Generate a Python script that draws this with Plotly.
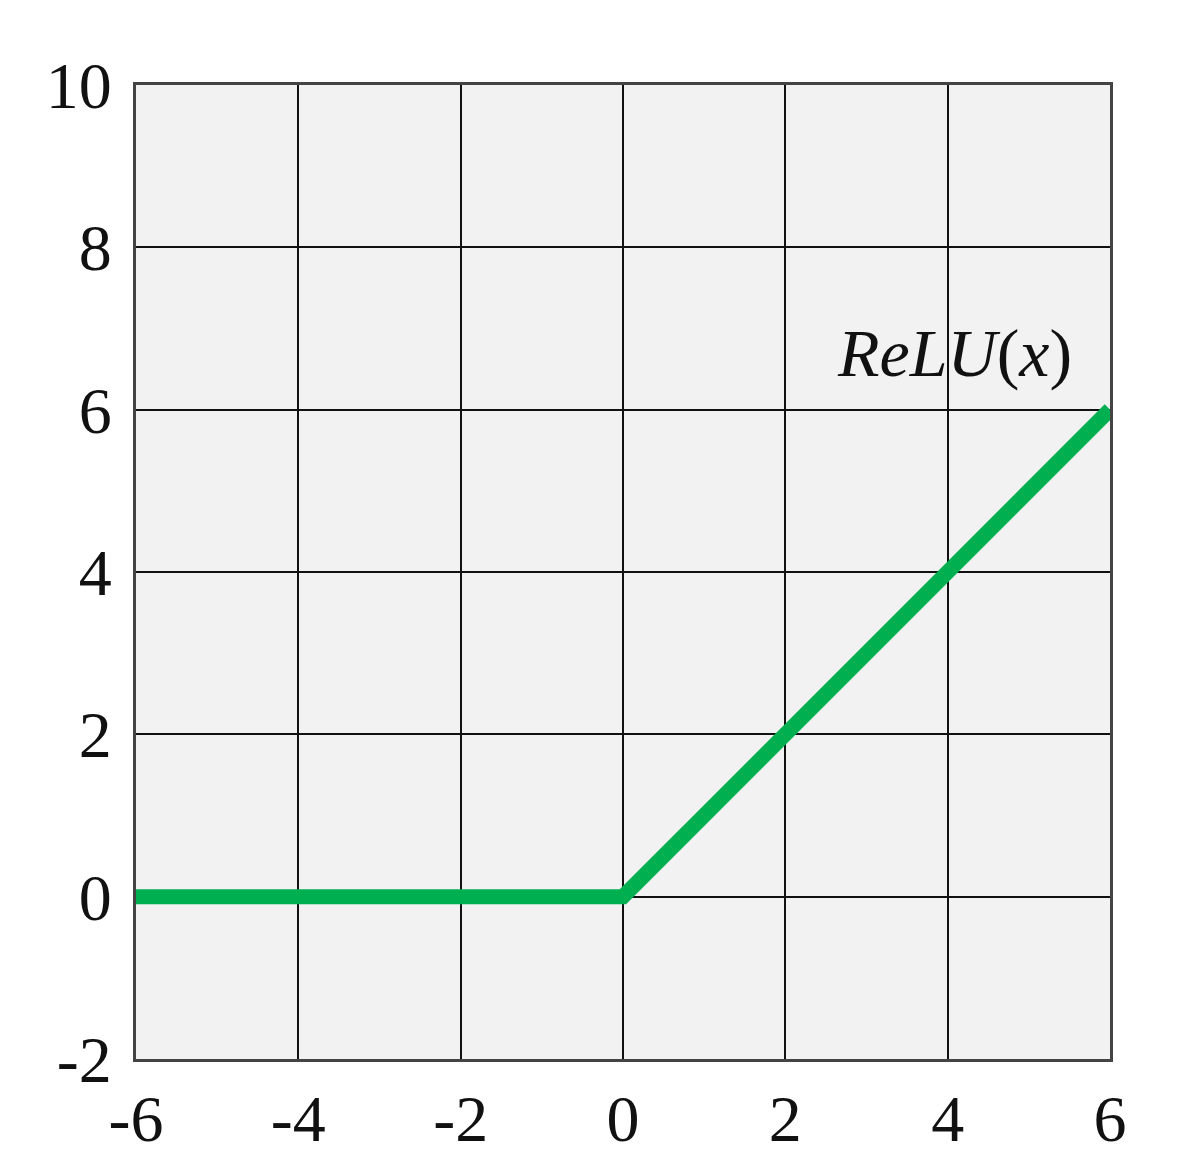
import plotly.graph_objects as go

# ReLU curve
x_vals = [-6, 0, 6]
relu_vals = [0, 0, 6]

x_ticks = [-6, -4, -2, 0, 2, 4, 6]
y_ticks = [-2, 0, 2, 4, 6, 8, 10]
# the original uses a plain hyphen for negatives
x_labels = [str(v) for v in x_ticks]
y_labels = [str(v) for v in y_ticks]

label_text = "<i>ReLU</i>(<i>x</i>)"
label_x = 4.08
label_y = 6.7

fig = go.Figure()
fig.add_trace(
    go.Scatter(
        x=x_vals, y=relu_vals, mode="lines",
        line=dict(color="#00b050", width=15),
        showlegend=False, hoverinfo="skip",
    )
)

fig.add_annotation(
    x=label_x, y=label_y, text=label_text, showarrow=False,
    font=dict(family="Liberation Serif", size=68, color="#111"),
)

axis_common = dict(
    showgrid=True, gridcolor="#111", gridwidth=2,
    showline=True, linecolor="#444", linewidth=3, mirror=True,
    zeroline=False, ticks="",
    tickfont=dict(family="Liberation Serif", size=66, color="#111"),
)

fig.update_xaxes(range=[-6, 6], tickvals=x_ticks, ticktext=x_labels,
                 ticklabelstandoff=0, **axis_common)
fig.update_yaxes(range=[-2, 10], tickvals=y_ticks, ticktext=y_labels,
                 ticklabelstandoff=8, **axis_common)

fig.update_layout(
    width=1179, height=1173,
    paper_bgcolor="white", plot_bgcolor="#f2f2f2",
    margin=dict(l=128, r=77, t=77, b=122),
)

fig.write_html("out.html")
